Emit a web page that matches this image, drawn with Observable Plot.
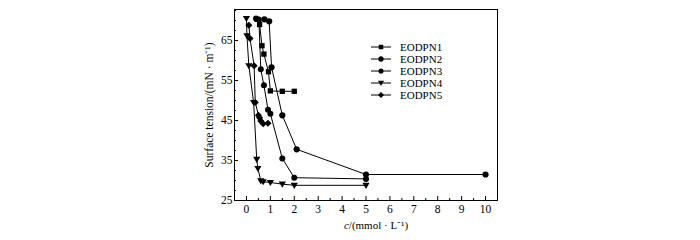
<!DOCTYPE html>
<html>
<head>
<meta charset="utf-8">
<script src="https://cdn.jsdelivr.net/npm/d3@7"></script>
<script src="https://cdn.jsdelivr.net/npm/@observablehq/plot@0.6"></script>
<style>
  html, body { margin: 0; padding: 0; background: #fff; }
  #chart { position: relative; width: 700px; height: 240px; }
</style>
</head>
<body>
<div id="chart"></div>
<script>
// ---- data ----
const seriesNames = ["EODPN1", "EODPN2", "EODPN3", "EODPN4", "EODPN5"];
const eodpn1C = [0.45, 0.55, 0.65, 0.73, 0.92, 1.0, 1.5, 2.0];
const eodpn1T = [70.3, 69.0, 63.7, 61.6, 57.2, 52.4, 52.3, 52.3];
const eodpn2C = [0.75, 0.95, 1.05, 1.5, 2.1, 5, 10];
const eodpn2T = [70.3, 69.8, 58.3, 46.3, 37.8, 31.5, 31.5];
const eodpn3C = [0.4, 0.52, 0.6, 0.73, 0.9, 1.0, 1.5, 2.0, 5];
const eodpn3T = [70.5, 70.2, 57.8, 53.8, 47.7, 46.7, 35.5, 30.7, 30.4];
const eodpn4C = [0.0, 0.02, 0.1, 0.3, 0.43, 0.48, 0.6, 0.7, 1.0, 1.5, 2.0, 5];
const eodpn4T = [70.5, 66.2, 58.7, 49.5, 35.3, 33.0, 29.9, 29.7, 29.5, 29.1, 28.8, 28.8];
const eodpn5C = [0.1, 0.15, 0.32, 0.37, 0.5, 0.55, 0.6, 0.7, 0.9];
const eodpn5T = [68.8, 65.5, 58.7, 49.5, 46.3, 45.7, 44.9, 44.2, 44.3];
const xTickLabels = [0, 1, 2, 3, 4, 5, 6, 7, 8, 9, 10];
const xMinorTicks = [-0.5, 0.5, 1.5, 2.5, 3.5, 4.5, 5.5, 6.5, 7.5, 8.5, 9.5, 10.5];
const yTickLabels = [25, 35, 45, 55, 65];
const yMinorTicks = [27.5, 30, 32.5, 37.5, 40, 42.5, 47.5, 50, 52.5, 57.5, 60, 62.5, 67.5, 70, 72.5];

// ---- symbols ----
const triangleDown = {
  draw(ctx, size) {
    const r = Math.sqrt(size / Math.PI);
    ctx.moveTo(0, r * 1.2);
    ctx.lineTo(-r * 1.2, -r * 0.85);
    ctx.lineTo(r * 1.2, -r * 0.85);
    ctx.closePath();
  }
};
const symbolsBySeries = {
  EODPN1: "square",
  EODPN2: "circle",
  EODPN3: "circle",
  EODPN4: triangleDown,
  EODPN5: "diamond2"
};
const rBySeries = {EODPN1: 3.0, EODPN2: 3.1, EODPN3: 3.0, EODPN4: 3.0, EODPN5: 3.2};

const cols = [[eodpn1C, eodpn1T], [eodpn2C, eodpn2T], [eodpn3C, eodpn3T], [eodpn4C, eodpn4T], [eodpn5C, eodpn5T]];
const rows = [];
cols.forEach(([cs, ts], i) => cs.forEach((c, j) => rows.push({series: seriesNames[i], c, t: ts[j]})));

const font = "'Liberation Serif', 'Times New Roman', serif";

const dotMarks = seriesNames.map(name =>
  Plot.dot(rows.filter(d => d.series === name), {
    x: "c", y: "t", symbol: () => symbolsBySeries[name], r: rBySeries[name],
    fill: "black", stroke: "none"
  })
);

const plot = Plot.plot({
  width: 700,
  height: 240,
  marginLeft: 234,
  marginRight: 203,
  marginTop: 9,
  marginBottom: 40,
  style: {fontFamily: font, fontSize: "11px", color: "black", background: "white"},
  x: {domain: [-0.5, 10.5]},
  y: {domain: [25, 72.75]},
  symbol: {type: "identity"},
  marks: [
    Plot.frame({stroke: "black", strokeWidth: 1}),
    Plot.axisX(xTickLabels, {tickSize: 0, tickPadding: 4, fontSize: 11.5, label: null}),
    Plot.axisX(xTickLabels, {tickSize: -4, tickFormat: () => "", label: null}),
    Plot.axisX(xMinorTicks, {tickSize: -2, tickFormat: () => "", label: null}),
    Plot.axisY(yTickLabels, {tickSize: 0, tickPadding: 2, fontSize: 11.5, label: "Surface tension/(mN · m⁻¹)", labelAnchor: "center", labelOffset: 30, labelArrow: "none"}),
    Plot.axisY(yTickLabels, {tickSize: -4, tickFormat: () => "", label: null}),
    Plot.axisY(yMinorTicks, {tickSize: -2, tickFormat: () => "", label: null}),
    Plot.line(rows, {x: "c", y: "t", z: "series", stroke: "black", strokeWidth: 1}),
    ...dotMarks
  ]
});

document.getElementById("chart").appendChild(plot);

// x-axis title with italic c
const svg = d3.select(plot);
const xt = svg.append("text")
  .attr("x", 376).attr("y", 229)
  .attr("text-anchor", "middle")
  .attr("font-family", font).attr("font-size", 11).attr("fill", "black");
xt.append("tspan").attr("font-style", "italic").text("c");
xt.append("tspan").text("/(mmol · L⁻¹)");

// legend
const lg = svg.append("g").attr("font-family", font).attr("font-size", 11).attr("text-anchor", "start");
seriesNames.forEach((name, i) => {
  const y = 47 + i * 12;
  lg.append("line").attr("x1", 371).attr("x2", 391).attr("y1", y).attr("y2", y)
    .attr("stroke", "black").attr("stroke-width", 1);
  const sym = symbolsBySeries[name];
  const r = rBySeries[name] * 0.85;
  const d3sym = typeof sym === "string"
    ? {square: d3.symbolSquare, circle: d3.symbolCircle, diamond2: d3.symbolDiamond2}[sym]
    : sym;
  lg.append("path").attr("transform", `translate(381,${y})`)
    .attr("d", d3.symbol(d3sym, r * r * Math.PI)()).attr("fill", "black");
  lg.append("text").attr("x", 400).attr("y", y).attr("dy", "0.35em")
    .attr("text-anchor", "start").attr("fill", "black").text(name);
});
</script>
</body>
</html>
